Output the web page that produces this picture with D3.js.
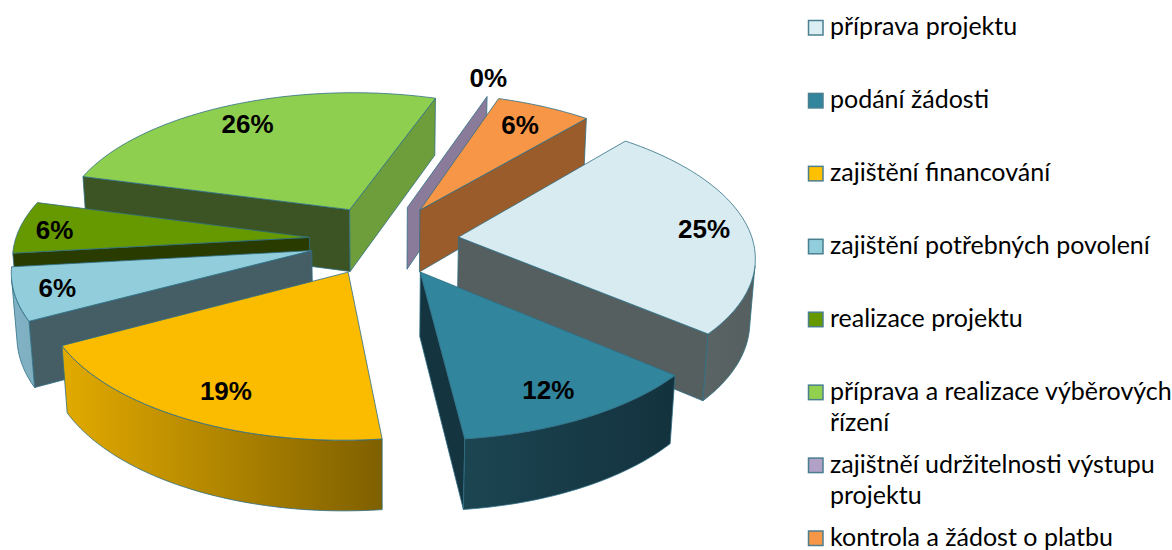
<!DOCTYPE html>
<html><head><meta charset="utf-8">
<script src="https://cdn.jsdelivr.net/npm/d3@7/dist/d3.min.js"></script>
<style>html,body{margin:0;padding:0;background:#fff;overflow:hidden}svg{display:block}</style>
</head><body><svg id="c" width="1172" height="550"></svg>
<script>
const categories = ["příprava projektu","podání žádosti","zajištění financování","zajištění potřebných povolení","realizace projektu","příprava a realizace výběrových řízení","zajištněí udržitelnosti výstupu projektu","kontrola a žádost o platbu"];
const legendLines = [["příprava projektu"],["podání žádosti"],["zajištění financování"],["zajištění potřebných povolení"],["realizace projektu"],["příprava a realizace výběrových","řízení"],["zajištněí udržitelnosti výstupu","projektu"],["kontrola a žádost o platbu"]];
const values = [25,12,19,6,6,26,0,6];
const topColors = ["#D8EBF1","#31859C","#FBBC00","#92CDDC","#669900","#8FCF50","#B2A1C7","#F79646"];
const legendColors = ["#DBEEF4","#31859C","#FFC000","#92CDDC","#669900","#92D050","#B2A1C7","#F79646"];
const startWallColors = ["#555F60","#14343F","#C89600","#455E66","#2A3B00","#3C5323","#8B7B9B","#9A5C2B"];
const endWallColors = ["#555F60","#14343F","#7F6000","#455E66","#2A3B00","#6E9E3C","#8B7B9B","#9A5C2B"];
const outerFrom = ["#5A6465","#1C4552","#E2AA00","#80B4C6","#2A3B00","#3C5323","#8B7B9B","#9A5C2B"];
const outerTo = ["#555F60","#13323E","#7F6000","#7FAEBE","#2A3B00","#3C5323","#8B7B9B","#9A5C2B"];
const edgeColor = "#2F6F84";

const W=1172,H=550, cx=384, cy=240;
const svg=d3.select("#c");
const defs=svg.append("defs");

// projection of the tilted pie
const xS=d3.scaleLinear().domain([-1,1]).range([-294,294]);
const yS=d3.scaleLinear().domain([-1,1]).range([-138.5,138.5]);
const zS=d3.scaleLinear().domain([0,1]).range([0,64]);
const persp=0.124, sink=0.015, explode=0.255;
function project(u,v,z){const w=1-persp*v+sink*z;return [cx+xS(u)/w, cy+(yS(v)+zS(z))/w];}

const pie=d3.pie().sort(null).startAngle(40.3*Math.PI/180).endAngle(400.3*Math.PI/180);
const arcs=pie(values);
const closed=d3.line().curve(d3.curveLinearClosed);
const area=d3.polygonArea;

const slices=arcs.map((a,i)=>{
  const t0=a.startAngle-Math.PI/2,t1=a.endAngle-Math.PI/2,mid=(t0+t1)/2;
  return {i,t0,t1,mid,ou:explode*Math.cos(mid),ov:explode*Math.sin(mid)};
});
const order=slices.slice().sort((a,b)=>Math.sin(a.mid)-Math.sin(b.mid));

const g=svg.append("g").attr("stroke-linejoin","round");
function poly(pts,fill){
  g.append("path").attr("d",closed(pts)).attr("fill",fill).attr("stroke",edgeColor).attr("stroke-width",0.8);
}
order.forEach(s=>{
  const P=(r,t,z)=>project(s.ou+r*Math.cos(t),s.ov+r*Math.sin(t),z);
  const n=Math.max(1,Math.ceil((s.t1-s.t0)/(Math.PI/180)));
  const ts=d3.range(n+1).map(k=>s.t0+(s.t1-s.t0)*k/n);
  const ap0=P(0,0,0),ap1=P(0,0,1);
  const q0=[ap0,P(1,s.t0,0),P(1,s.t0,1),ap1];
  const q1=[P(1,s.t1,0),ap0,ap1,P(1,s.t1,1)];
  if(area(q0)>0) poly(q0,startWallColors[s.i]);
  if(area(q1)>0) poly(q1,endWallColors[s.i]);
  const vis=[];
  for(let k=0;k<n;k++){
    const q=[P(1,ts[k],0),P(1,ts[k+1],0),P(1,ts[k+1],1),P(1,ts[k],1)];
    if(values[s.i]>0 && area(q)>0) vis.push(k);
  }
  if(vis.length){
    const idx=[...vis,vis[vis.length-1]+1];
    const tops=idx.map(k=>P(1,ts[k],0)), bots=idx.map(k=>P(1,ts[k],1)).reverse();
    const pts=tops.concat(bots);
    const [x0,x1]=d3.extent(pts,d=>d[0]);
    const id="o"+s.i;
    const gr=defs.append("linearGradient").attr("id",id).attr("gradientUnits","userSpaceOnUse")
      .attr("x1",x0).attr("x2",x1).attr("y1",0).attr("y2",0);
    gr.append("stop").attr("offset",0).attr("stop-color",outerFrom[s.i]);
    gr.append("stop").attr("offset",1).attr("stop-color",outerTo[s.i]);
    poly(pts,`url(#${id})`);
  }
  if(values[s.i]>0) poly([ap0,...ts.map(t=>P(1,t,0))],topColors[s.i]);
});

const labels=svg.append("g").attr("font-family","'Liberation Sans',Arial,sans-serif").attr("font-weight","bold")
  .attr("font-size",26).attr("text-anchor","middle").attr("fill","#000");
slices.forEach(s=>{
  const c=Math.cos(s.mid), sn=Math.sin(s.mid);
  const rx=values[s.i]>0?0.78+0.085*c*c-0.015*c+(c<0?0.11*c*sn*Math.abs(sn):0):1.04, ry=values[s.i]>0?0.82:1.2;
  const p=project(s.ou+rx*c,s.ov+ry*sn,0);
  labels.append("text").attr("x",p[0]).attr("y",p[1]+10.5).text(d3.format(".0%")(values[s.i]/100));
});

const rowY=d3.scaleLinear().domain([0,7]).range([28,538.5]);
const leg=svg.append("g").attr("font-family","Lato,'Noto Sans',sans-serif").attr("font-size",25).attr("fill","#000");
legendLines.forEach((ls,i)=>{
  const y=rowY(i);
  leg.append("rect").attr("x",808.5).attr("y",y-7.5).attr("width",14.5).attr("height",14.5)
    .attr("fill",legendColors[i]).attr("stroke","#4A7F90").attr("stroke-width",1.5);
  ls.forEach((t,k)=>leg.append("text").attr("x",830).attr("y",y+7+k*31).text(t));
});
</script></body></html>
